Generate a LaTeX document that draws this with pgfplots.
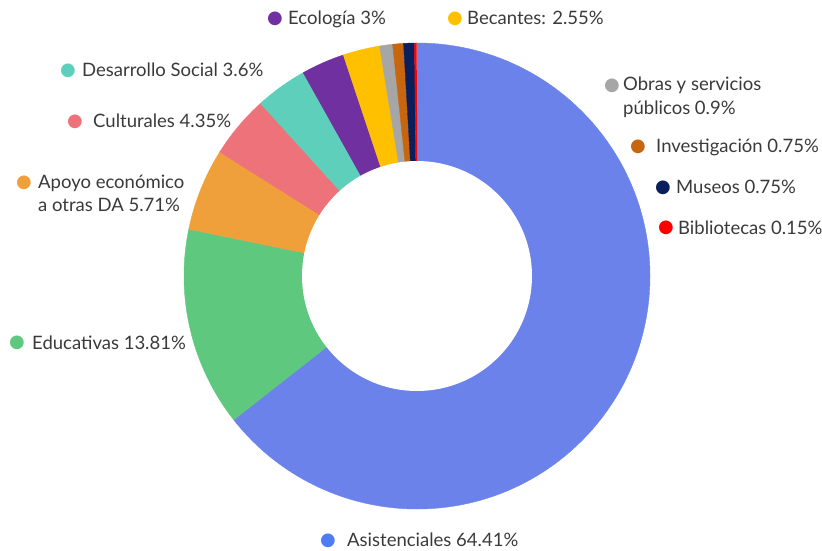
\documentclass[border=0pt]{standalone}
\usepackage{pgfplots}
\pgfplotsset{compat=1.18}
\usepackage{pgfplotstable}
\usepackage{fontspec}
\setmainfont{Lato}
\newfontfamily\symf{DejaVu Sans}

\definecolor{cAsis}{HTML}{6B82EA}
\definecolor{cAsisDot}{HTML}{4F7CF2}
\definecolor{cEdu}{HTML}{5EC87E}
\definecolor{cApoyo}{HTML}{F0A03A}
\definecolor{cCult}{HTML}{ED727A}
\definecolor{cDes}{HTML}{5ECFBA}
\definecolor{cEco}{HTML}{7030A0}
\definecolor{cBec}{HTML}{FFC000}
\definecolor{cObras}{HTML}{A6A6A6}
\definecolor{cInv}{HTML}{C8650F}
\definecolor{cMus}{HTML}{0B1F5C}
\definecolor{cBib}{HTML}{FF0000}
\definecolor{txt}{HTML}{3A3A3A}

% share of each category, clockwise from 12 o'clock
\pgfplotstableread[col sep=comma]{
name,value,color
Asistenciales,64.41,cAsis
Educativas,13.81,cEdu
Apoyo,5.71,cApoyo
Culturales,4.35,cCult
Desarrollo,3.6,cDes
Ecologia,3,cEco
Becantes,2.55,cBec
Obras,0.9,cObras
Investigacion,0.75,cInv
Museos,0.75,cMus
Bibliotecas,0.15,cBib
}\piedata

\newcommand{\dotk}[1]{{\symf\fontsize{18}{18}\selectfont\textcolor{#1}{●}}}
\tikzset{lab/.style={anchor=base west, font=\fontsize{18.5}{24}\selectfont, text=txt, inner sep=0pt, align=left}}

\begin{document}
\begin{tikzpicture}
\begin{axis}[
    x=1pt, y=1pt,
    xmin=0, xmax=822, ymin=0, ymax=550,
    hide axis, clip=false,
]
\pgfplotstablegetrowsof{\piedata}
\pgfmathtruncatemacro\lastrow{\pgfplotsretval-1}
\def\curang{90}
\pgfplotsforeachungrouped \i in {0,...,\lastrow}{
  \pgfplotstablegetelem{\i}{value}\of\piedata \let\v\pgfplotsretval
  \pgfplotstablegetelem{\i}{color}\of\piedata \let\c\pgfplotsretval
  \pgfmathsetmacro\nextang{\curang-3.6*\v}
  \edef\temp{\noexpand\fill[\c, draw=\c, line width=0.4pt] (axis cs:417,274) -- ++(\curang:233pt)
     arc[start angle=\curang, end angle=\nextang, radius=233pt] -- cycle;}
  \temp
  \global\let\curang\nextang
}
\fill[white] (axis cs:417,274) circle[radius=115pt];

% dots
\node[inner sep=0pt] at (axis cs:275,531) {\dotk{cEco}};
\node[inner sep=0pt] at (axis cs:455,531) {\dotk{cBec}};
\node[inner sep=0pt] at (axis cs:68,479) {\dotk{cDes}};
\node[inner sep=0pt] at (axis cs:75,428) {\dotk{cCult}};
\node[inner sep=0pt] at (axis cs:24,367) {\dotk{cApoyo}};
\node[inner sep=0pt] at (axis cs:17,207) {\dotk{cEdu}};
\node[inner sep=0pt] at (axis cs:328,9) {\dotk{cAsisDot}};
\node[inner sep=0pt] at (axis cs:612,464) {\dotk{cObras}};
\node[inner sep=0pt] at (axis cs:638,403) {\dotk{cInv}};
\node[inner sep=0pt] at (axis cs:663,362) {\dotk{cMus}};
\node[inner sep=0pt] at (axis cs:666,322) {\dotk{cBib}};

% labels
\node[lab] at (axis cs:288,525) {Ecología 3\%};
\node[lab] at (axis cs:467,525) {Becantes: 2.55\%};
\node[lab] at (axis cs:82,473) {Desarrollo Social 3.6\%};
\node[lab] at (axis cs:93,422) {Culturales 4.35\%};
\node[lab] at (axis cs:38,338) {Apoyo económico\\a otras DA 5.71\%};
\node[lab] at (axis cs:32,201) {Educativas 13.81\%};
\node[lab] at (axis cs:347,4) {Asistenciales 64.41\%};
\node[lab] at (axis cs:623,435) {Obras y servicios\\públicos 0.9\%};
\node[lab] at (axis cs:656,397) {Investigación 0.75\%};
\node[lab] at (axis cs:676,356) {Museos 0.75\%};
\node[lab] at (axis cs:678,316) {Bibliotecas 0.15\%};
\end{axis}
\pgfresetboundingbox
\path[use as bounding box] (0,0) rectangle (822pt,550pt);
\end{tikzpicture}
\end{document}
